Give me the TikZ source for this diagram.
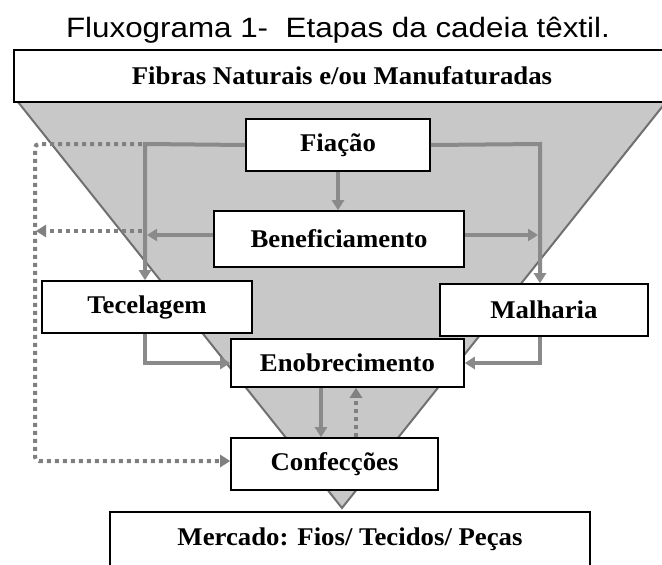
\documentclass[tikz,border=0pt]{standalone}
\usepackage{fontspec}
\setmainfont{Liberation Serif}
\newfontfamily\titlefont{Liberation Sans}
\usetikzlibrary{arrows.meta}
\definecolor{tri}{HTML}{C8C8C8}
\definecolor{triedge}{HTML}{707070}
\definecolor{arr}{HTML}{8A8A8A}
\definecolor{dotc}{HTML}{808080}
\begin{document}
\begin{tikzpicture}[x=1pt,y=-1pt,
  stage/.style={draw=black,line width=1.6pt,fill=white,inner sep=0pt,
    font=\fontsize{25.5}{30}\selectfont\bfseries},
  flow/.style={draw=arr,line width=4pt,-{Triangle[length=10pt,width=12pt]}},
  dotflow/.style={draw=dotc,line width=4pt,dash pattern=on 4pt off 4pt,
    -{Triangle[length=10pt,width=12pt]}}]
\useasboundingbox (0,0) rectangle (662,565);
\clip (0,0) rectangle (662,565);
\fill[white] (0,0) rectangle (662,565);

% title
\node[anchor=base,inner sep=0pt,font=\titlefont\fontsize{28}{32}\selectfont] (title) at (338,37)
  {\scalebox{1.12}[1]{Fluxograma 1-\ \ Etapas da cadeia têxtil.}};

% funnel
\fill[tri] (18,102) -- (666,102) -- (342,508) -- cycle;
\draw[triedge,line width=2pt] (18,102) -- (342,508) -- (666,102);

% boxes
\node[stage,minimum width=656pt,minimum height=52pt] (fib) at (342,76)
  {\scalebox{1.05}[1]{Fibras Naturais e/ou Manufaturadas}};
\node[stage,minimum width=184pt,minimum height=52pt] (fia) at (338,145)
  {\scalebox{1.05}[1]{Fiação}};
\node[stage,minimum width=250pt,minimum height=56pt] (ben) at (339,239)
  {\scalebox{1.05}[1]{Beneficiamento}};
\node[stage,minimum width=210pt,minimum height=52pt] (tec) at (147,307)
  {\scalebox{1.05}[1]{Tecelagem}};
\node[stage,minimum width=208pt,minimum height=52pt] (mal) at (544,310)
  {\scalebox{1.05}[1]{Malharia}};
\node[stage,minimum width=233pt,minimum height=48pt] (eno) at (347.5,363)
  {\scalebox{1.05}[1]{Enobrecimento}};
\node[stage,minimum width=207pt,minimum height=52pt] (con) at (334.5,464)
  {\scalebox{1.05}[1]{Confecções}};
\node[stage,minimum width=480pt,anchor=north,text height=34pt,text depth=40pt] (mer) at (350,511)
  {\scalebox{1.05}[1]{Mercado: Fios/ Tecidos/ Peças}};

% helper coordinates
\coordinate (lv) at (145,144);
\coordinate (rv) at (540,144);
\coordinate (dtop) at (35,144);
\coordinate (dbot) at (35,461);
\coordinate (dm) at (145,231);
\coordinate (dmx) at (36,231);

% solid flows
\draw[flow] (fia.south) -- (fia.south |- ben.north);
\draw[flow] (fia.west) -- (lv) -- (lv |- tec.north);
\draw[flow] (fia.east) -- (rv) -- (rv |- mal.north);
\draw[flow,shorten >=2pt] ([yshift=4pt]ben.west) coordinate (bw) -- (bw -| lv);
\draw[flow,shorten >=2pt] ([yshift=4pt]ben.east) coordinate (be) -- (be -| rv);
\draw[flow] (lv |- tec.south) |- (eno.west);
\draw[flow] (rv |- mal.south) |- (eno.east);
\draw[flow] ([xshift=-26.5pt]eno.south) coordinate (ed) -- (ed |- con.north);

% dotted flows
\draw[dotflow,rounded corners=4pt] ([xshift=-3pt]lv) -- (dtop) -- (dbot) -- (dbot -| con.west);
\draw[dotflow] ([xshift=-3pt]dm) -- (dmx);
\draw[dotflow] ([xshift=21.5pt]con.north) coordinate (cu) -- (cu |- eno.south);
\end{tikzpicture}
\end{document}
